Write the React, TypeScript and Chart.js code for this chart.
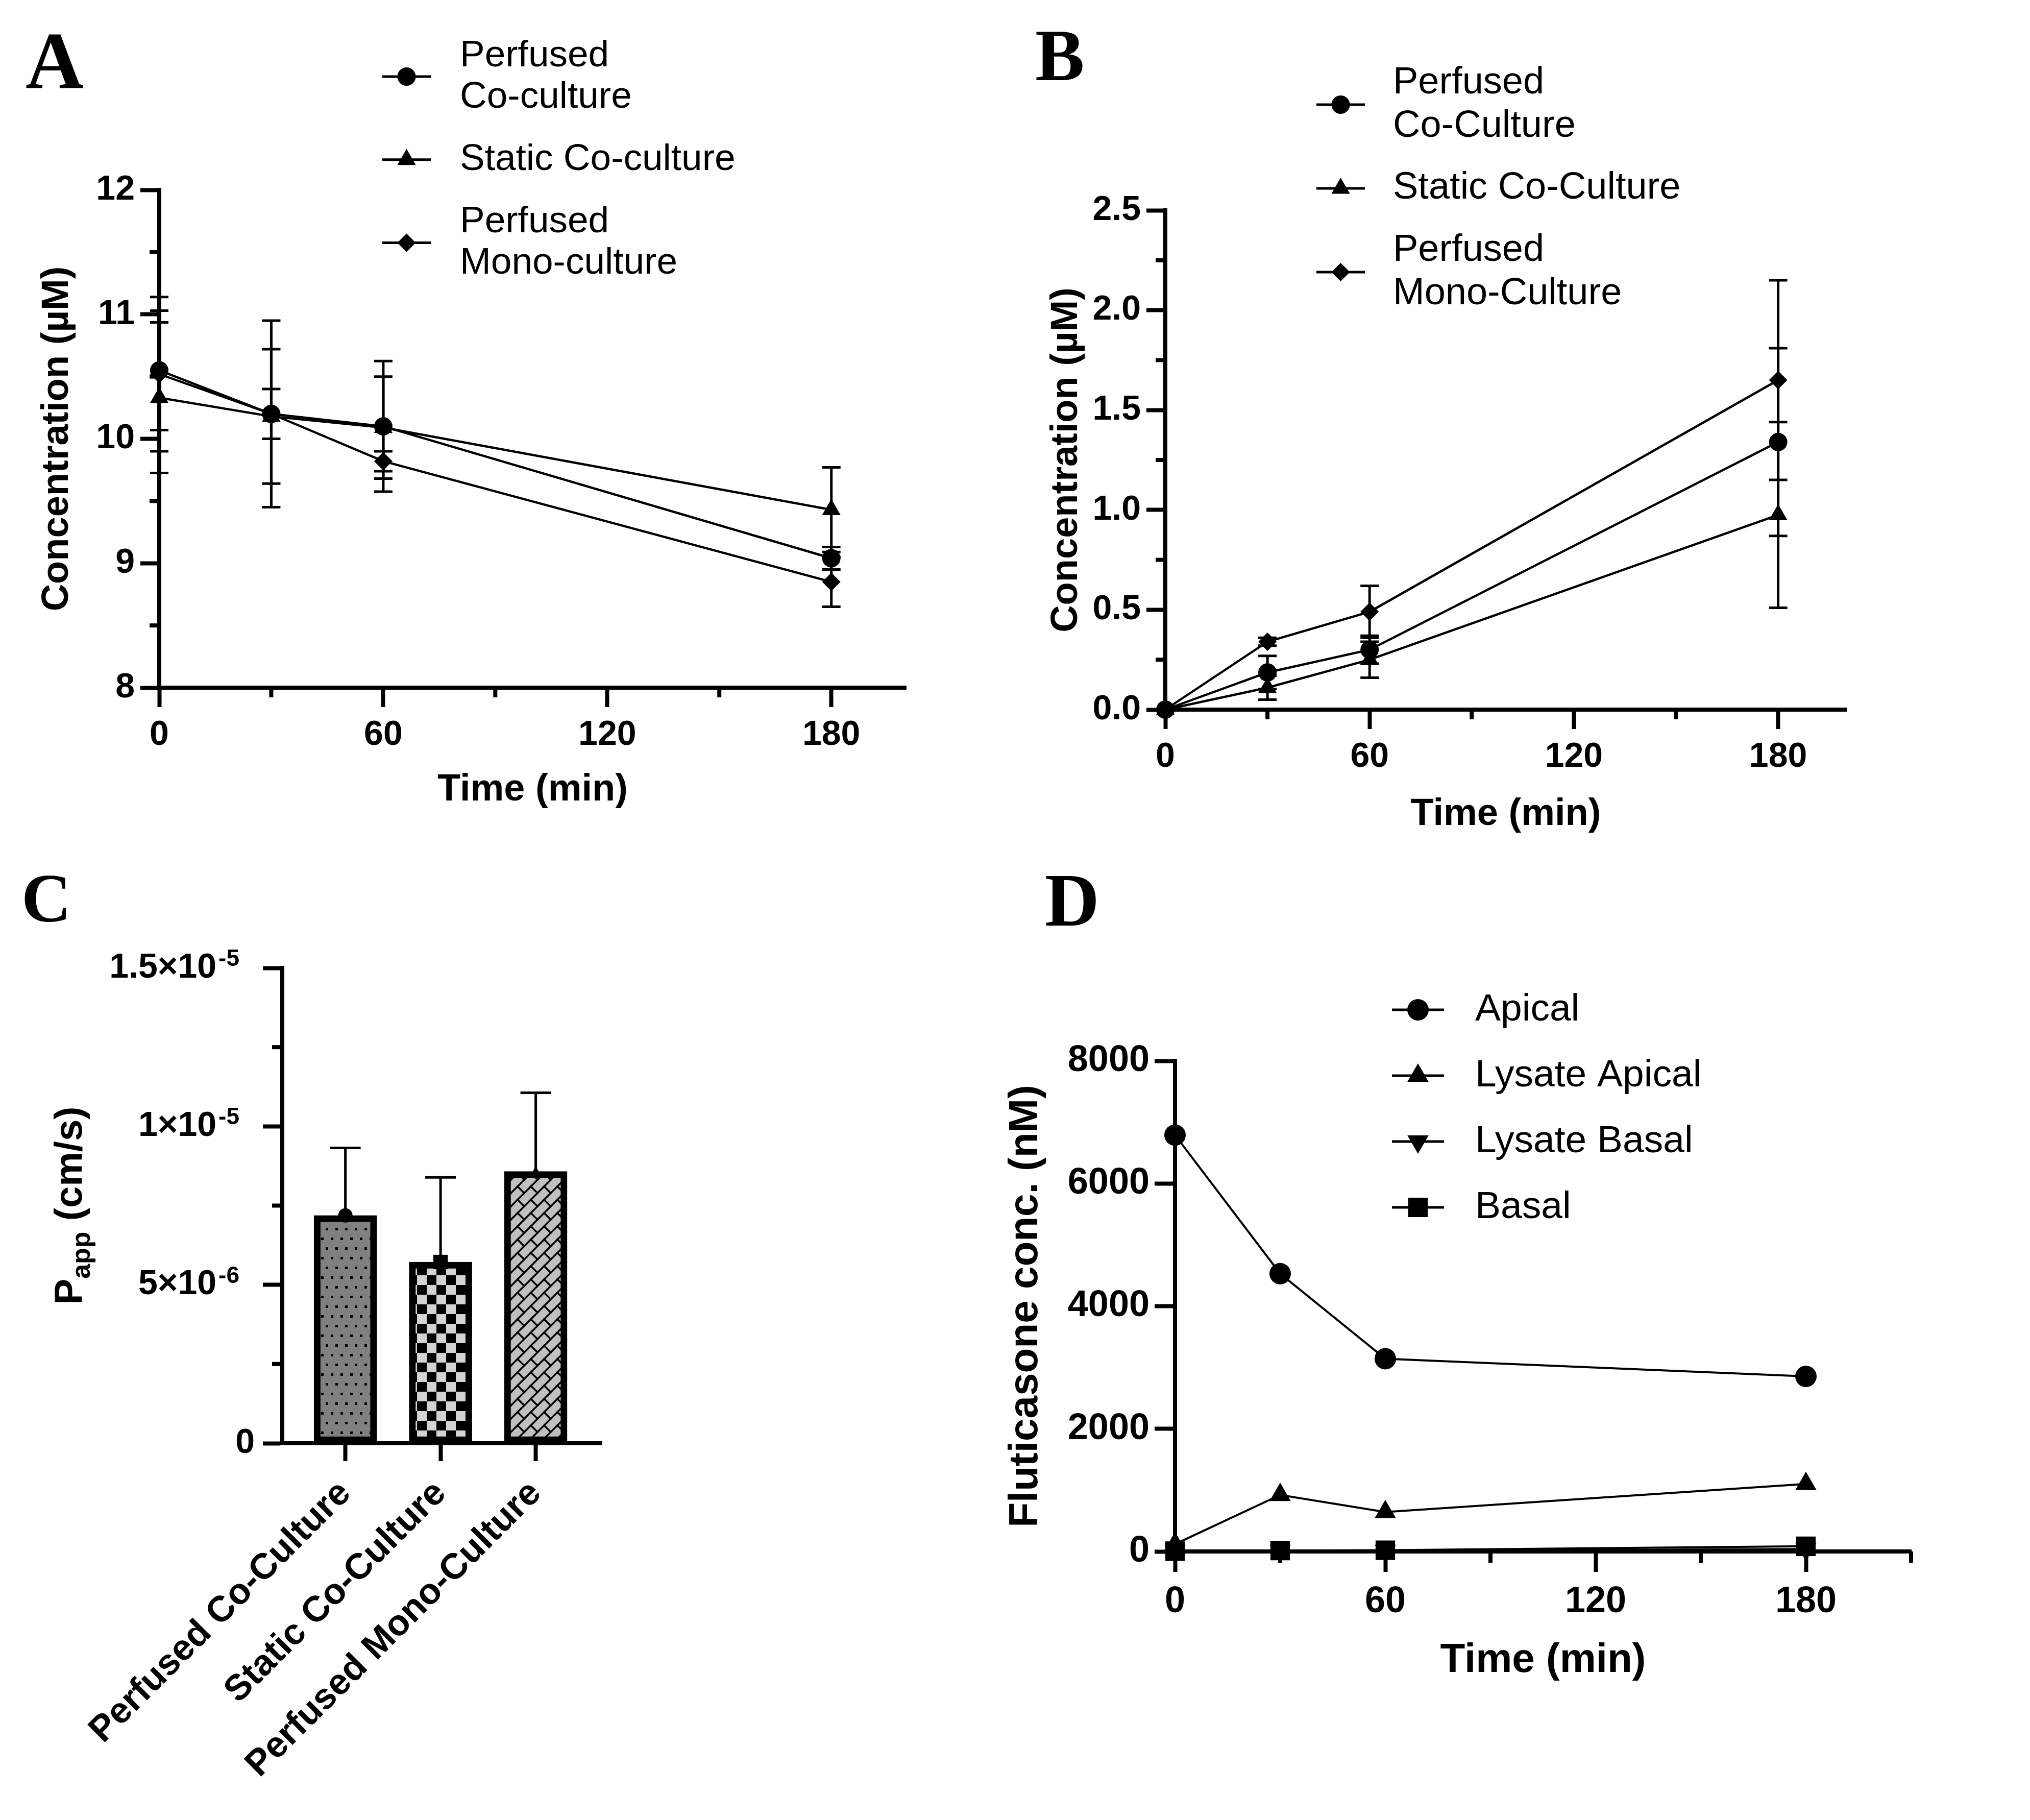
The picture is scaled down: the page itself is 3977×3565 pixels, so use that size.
import React, { useEffect, useRef } from 'react';
import { Chart, registerables } from 'chart.js';

Chart.register(...registerables);

const SANS = "'Liberation Sans', Arial, Helvetica, sans-serif";
const SERIF = "'Liberation Serif', 'Times New Roman', Times, serif";
Chart.defaults.font.family = SANS;
Chart.defaults.color = '#000';

// ---------------- data ----------------
const timePoints = [0, 30, 60, 180];
const timeMajorTicks = [0, 60, 120, 180];
const timeMinorTicks = [30, 90, 150];
const timeMinorTicksD = [30, 90, 150, 210];

// Panel A
const aSeriesNames = [['Perfused', 'Co-culture'], ['Static Co-culture'], ['Perfused', 'Mono-culture']];
const aPerfusedCo = [10.55, 10.2, 10.1, 9.04];
const aPerfusedCoErr = [0.48, 0.2, 0.525, 0.09];
const aStaticCo = [10.33, 10.18, 10.09, 9.43];
const aStaticCoErr = [0.605, 0.54, 0.41, 0.34];
const aPerfusedMono = [10.52, 10.2, 9.82, 8.85];
const aPerfusedMonoErr = [0.62, 0.75, 0.08, 0.2];
const aYTicks = [8, 9, 10, 11, 12];
const aYMinor = [8.5, 9.5, 10.5, 11.5];

// Panel B
const bSeriesNames = [['Perfused', 'Co-Culture'], ['Static Co-Culture'], ['Perfused', 'Mono-Culture']];
const bPerfusedCo = [0, 0.186, 0.3, 1.34];
const bPerfusedCoErr = [0, 0.083, 0.07, 0.47];
const bStaticCo = [0, 0.11, 0.25, 0.975];
const bStaticCoErr = [0, 0.06, 0.09, 0.465];
const bPerfusedMono = [0, 0.34, 0.49, 1.65];
const bPerfusedMonoErr = [0, 0.02, 0.13, 0.5];
const bYTicks = [0, 0.5, 1, 1.5, 2, 2.5];
const bYTickLabels = ['0.0', '0.5', '1.0', '1.5', '2.0', '2.5'];
const bYMinor = [0.25, 0.75, 1.25, 1.75, 2.25];

// Panel C
const cCategories = ['Perfused Co-Culture', 'Static Co-Culture', 'Perfused Mono-Culture'];
const cPositions = [1, 2, 3];
const cPapp = [7.19e-6, 5.72e-6, 8.58e-6];
const cPappErr = [2.13e-6, 2.67e-6, 2.48e-6];
const cYTicks = [0, 5e-6, 1e-5, 1.5e-5];
const cYTickBase = ['0', '5×10', '1×10', '1.5×10'];
const cYTickExp = ['', '-6', '-5', '-5'];
const cYMinor = [2.5e-6, 7.5e-6, 1.25e-5];

// Panel D
const dSeriesNames = [['Apical'], ['Lysate Apical'], ['Lysate Basal'], ['Basal']];
const dApical = [6790, 4530, 3143, 2855];
const dLysateApical = [120, 922, 644, 1100];
const dLysateBasal = [5, 10, 10, 40];
const dBasal = [5, 15, 20, 85];
const dYTicks = [0, 2000, 4000, 6000, 8000];

// ---------------- layout ----------------
type Box = { x: number; y: number; w: number; h: number };
const BOX_A: Box = { x: 0, y: 0, w: 1990, h: 1700 };
const BOX_B: Box = { x: 1940, y: 0, w: 2037, h: 1700 };
const BOX_C: Box = { x: 0, y: 1700, w: 1990, h: 1865 };
const BOX_D: Box = { x: 1940, y: 1700, w: 2037, h: 1865 };

// ---------------- helpers ----------------
interface AxisOpts {
  min: number; max: number; ticks: number[]; labels?: string[];
  size: number; horizontal: boolean; tickLen: number; pad: number; font: number;
  title?: string; titleFont?: number; titlePad?: number; rotation?: number; hideLabels?: boolean;
}

function axis(o: AxisOpts): any {
  return {
    type: 'linear',
    position: o.horizontal ? 'bottom' : 'left',
    min: o.min,
    max: o.max,
    bounds: 'data',
    offset: false,
    beginAtZero: false,
    afterBuildTicks: (s: any) => { s.ticks = o.ticks.map((v) => ({ value: v })); },
    afterFit: (s: any) => { if (o.horizontal) s.height = o.size; else s.width = o.size; },
    ticks: {
      display: !o.hideLabels,
      autoSkip: false,
      color: '#000',
      padding: o.pad,
      minRotation: o.rotation ?? 0,
      maxRotation: o.rotation ?? 0,
      font: { family: SANS, size: o.font, weight: 'bold' },
      callback: (v: number, i: number) => (o.labels ? o.labels[i] : String(v)),
    },
    grid: {
      display: true, drawOnChartArea: false, drawTicks: true, offset: false,
      tickLength: o.tickLen, tickWidth: 8, tickColor: '#000',
    },
    border: { display: true, color: '#000', width: 8 },
    title: o.title
      ? {
          display: true, text: o.title, color: '#000',
          font: { family: SANS, size: o.titleFont, weight: 'bold' },
          padding: o.horizontal ? { top: 0, bottom: o.titlePad } : { top: o.titlePad, bottom: 0 },
        }
      : { display: false },
  };
}

function series(lines: string[], xs: number[], ys: number[], errs: number[] | null,
  style: string, radius: number, lineWidth: number, rotation = 0, order = 0): any {
  return {
    label: lines.join(' '),
    legendLines: lines,
    data: xs.map((x, i) => ({ x, y: ys[i] })),
    errors: errs,
    borderColor: '#000',
    backgroundColor: '#000',
    borderWidth: lineWidth,
    pointStyle: style,
    pointRadius: radius,
    pointHoverRadius: radius,
    pointRotation: rotation,
    pointBackgroundColor: '#000',
    pointBorderColor: '#000',
    pointBorderWidth: 0,
    tension: 0,
    fill: false,
    clip: false,
    order,
  };
}

function baseOptions(pad: { top: number; right: number }, scales: any): any {
  return {
    responsive: false,
    maintainAspectRatio: false,
    animation: false,
    devicePixelRatio: 1,
    events: [],
    layout: { padding: { top: pad.top, right: pad.right, bottom: 0, left: 0 } },
    scales,
    plugins: { legend: { display: false }, tooltip: { enabled: false }, title: { display: false } },
  };
}

function drawMarker(ctx: CanvasRenderingContext2D, style: string, x: number, y: number, r: number, rotation: number) {
  ctx.save();
  ctx.translate(x, y);
  ctx.rotate((rotation * Math.PI) / 180);
  ctx.beginPath();
  if (style === 'circle') {
    ctx.arc(0, 0, r, 0, Math.PI * 2);
  } else if (style === 'triangle') {
    for (let k = 0; k < 3; k++) {
      const a = (k * 2 * Math.PI) / 3;
      const px = Math.sin(a) * r;
      const py = -Math.cos(a) * r;
      if (k === 0) ctx.moveTo(px, py); else ctx.lineTo(px, py);
    }
  } else if (style === 'rectRot') {
    ctx.moveTo(-r, 0); ctx.lineTo(0, -r); ctx.lineTo(r, 0); ctx.lineTo(0, r);
  } else {
    const s = r * Math.SQRT1_2;
    ctx.rect(-s, -s, 2 * s, 2 * s);
  }
  ctx.closePath();
  ctx.fillStyle = '#000';
  ctx.fill();
  ctx.restore();
}

// ---------------- plugins ----------------
const errorBarPlugin = {
  id: 'errorBars',
  beforeDatasetsDraw(chart: any) {
    const ctx: CanvasRenderingContext2D = chart.ctx;
    chart.data.datasets.forEach((ds: any, i: number) => {
      if (!ds.errors) return;
      const meta = chart.getDatasetMeta(i);
      const xs = chart.scales[meta.xAxisID];
      const ys = chart.scales[meta.yAxisID];
      ctx.save();
      ctx.strokeStyle = '#000';
      ctx.lineWidth = ds.errorLineWidth ?? 5;
      ds.data.forEach((p: any, j: number) => {
        const e = ds.errors[j];
        if (!e) return;
        const x = xs.getPixelForValue(p.x);
        const yTop = ys.getPixelForValue(p.y + e);
        const yBot = ds.errorUpOnly ? ys.getPixelForValue(p.y) : ys.getPixelForValue(p.y - e);
        const h = ds.capHalfWidth ?? 18;
        ctx.beginPath();
        ctx.moveTo(x, yTop); ctx.lineTo(x, yBot);
        ctx.moveTo(x - h, yTop); ctx.lineTo(x + h, yTop);
        if (!ds.errorUpOnly) { ctx.moveTo(x - h, yBot); ctx.lineTo(x + h, yBot); }
        ctx.stroke();
      });
      ctx.restore();
    });
  },
};

function minorTicks(cfg: { x?: number[]; xLen?: number; y?: number[]; yLen?: number }) {
  return {
    id: 'minorTicks',
    afterDraw(chart: any) {
      const ctx: CanvasRenderingContext2D = chart.ctx;
      const { left, bottom } = chart.chartArea;
      ctx.save();
      ctx.strokeStyle = '#000';
      ctx.lineWidth = 8;
      (cfg.x || []).forEach((v) => {
        const px = chart.scales.x.getPixelForValue(v);
        ctx.beginPath(); ctx.moveTo(px, bottom); ctx.lineTo(px, bottom + (cfg.xLen || 19)); ctx.stroke();
      });
      (cfg.y || []).forEach((v) => {
        const py = chart.scales.y.getPixelForValue(v);
        ctx.beginPath(); ctx.moveTo(left, py); ctx.lineTo(left - (cfg.yLen || 19), py); ctx.stroke();
      });
      ctx.restore();
    },
  };
}

// y tick labels written as mantissa×10 with a raised exponent
function sciTickLabels(cfg: { values: number[]; base: string[]; exp: string[]; tickLen: number; padPlain: number; padExp: number; size: number; expSize: number; raise: number }) {
  return {
    id: 'sciTicks',
    afterDraw(chart: any) {
      const ctx: CanvasRenderingContext2D = chart.ctx;
      const { left } = chart.chartArea;
      const ys = chart.scales.y;
      const big = `bold ${cfg.size}px ${SANS}`;
      const small = `bold ${cfg.expSize}px ${SANS}`;
      ctx.save();
      ctx.fillStyle = '#000';
      ctx.textAlign = 'right';
      cfg.values.forEach((v, i) => {
        const y = ys.getPixelForValue(v);
        const e = cfg.exp[i];
        if (!e) {
          ctx.font = big;
          ctx.textBaseline = 'middle';
          ctx.fillText(cfg.base[i], left - cfg.tickLen - cfg.padPlain, y);
          return;
        }
        const right = left - cfg.tickLen - cfg.padExp;
        ctx.font = small;
        const ew = ctx.measureText(e).width;
        ctx.textBaseline = 'alphabetic';
        ctx.fillText(e, right, y - cfg.raise);
        ctx.font = big;
        ctx.textBaseline = 'middle';
        ctx.fillText(cfg.base[i], right - ew - 4, y);
      });
      ctx.restore();
    },
  };
}

function legendPlugin(cfg: { x0: number; x1: number; textX: number; y0: number; step: number; lineGap: number; font: number }) {
  return {
    id: 'customLegend',
    afterDraw(chart: any) {
      const ctx: CanvasRenderingContext2D = chart.ctx;
      ctx.save();
      ctx.font = `${cfg.font}px ${SANS}`;
      ctx.fillStyle = '#000';
      ctx.strokeStyle = '#000';
      ctx.lineWidth = 5;
      ctx.textBaseline = 'middle';
      ctx.textAlign = 'left';
      chart.data.datasets.filter((d: any) => d.legendLines).forEach((ds: any, i: number) => {
        const y = cfg.y0 + i * cfg.step;
        ctx.beginPath(); ctx.moveTo(cfg.x0, y); ctx.lineTo(cfg.x1, y); ctx.stroke();
        drawMarker(ctx, ds.pointStyle, (cfg.x0 + cfg.x1) / 2, y, ds.pointRadius, ds.pointRotation || 0);
        const n = ds.legendLines.length;
        ds.legendLines.forEach((ln: string, k: number) => {
          ctx.fillText(ln, cfg.textX, y + (k - (n - 1) / 2) * cfg.lineGap);
        });
      });
      ctx.restore();
    },
  };
}

function letterPlugin(text: string, x: number, y: number, size: number) {
  return {
    id: 'panelLetter',
    afterDraw(chart: any) {
      const ctx: CanvasRenderingContext2D = chart.ctx;
      ctx.save();
      ctx.font = `bold ${size}px ${SERIF}`;
      ctx.fillStyle = '#000';
      ctx.textBaseline = 'alphabetic';
      ctx.textAlign = 'left';
      ctx.fillText(text, x, y);
      ctx.restore();
    },
  };
}

function subscriptTitle(cfg: { x: number; main: string; sub: string; rest: string; size: number; subSize: number; drop: number }) {
  return {
    id: 'subTitle',
    afterDraw(chart: any) {
      const ctx: CanvasRenderingContext2D = chart.ctx;
      const { top, bottom } = chart.chartArea;
      const cy = (top + bottom) / 2;
      const big = `bold ${cfg.size}px ${SANS}`;
      const small = `bold ${cfg.subSize}px ${SANS}`;
      ctx.save();
      ctx.font = big;
      const w1 = ctx.measureText(cfg.main).width;
      const w3 = ctx.measureText(cfg.rest).width;
      ctx.font = small;
      const w2 = ctx.measureText(cfg.sub).width;
      const total = w1 + w2 + w3;
      ctx.translate(cfg.x, cy);
      ctx.rotate(-Math.PI / 2);
      ctx.fillStyle = '#000';
      ctx.textBaseline = 'alphabetic';
      ctx.textAlign = 'left';
      let x = -total / 2;
      ctx.font = big; ctx.fillText(cfg.main, x, 0); x += w1;
      ctx.font = small; ctx.fillText(cfg.sub, x, cfg.drop); x += w2;
      ctx.font = big; ctx.fillText(cfg.rest, x, 0);
      ctx.restore();
    },
  };
}

// ---------------- patterns ----------------
function tile(w: number, h: number, draw: (c: CanvasRenderingContext2D) => void): CanvasPattern {
  const cv = document.createElement('canvas');
  cv.width = w; cv.height = h;
  const c = cv.getContext('2d') as CanvasRenderingContext2D;
  draw(c);
  return c.createPattern(cv, 'repeat') as CanvasPattern;
}

function dotsPattern() {
  return tile(38, 38, (c) => {
    c.fillStyle = '#808080'; c.fillRect(0, 0, 38, 38);
    c.fillStyle = '#000';
    [[2, 2], [21, 2], [11, 21], [30, 21]].forEach(([x, y]) => c.fillRect(x, y, 5, 5));
  });
}

function checkerPattern() {
  return tile(38, 38, (c) => {
    c.fillStyle = '#d3d3d3'; c.fillRect(0, 0, 38, 38);
    c.fillStyle = '#000';
    c.fillRect(0, 0, 19, 19); c.fillRect(19, 19, 19, 19);
  });
}

function brickPattern() {
  const s = 26;
  return tile(s, s, (c) => {
    c.fillStyle = '#c0c0c0'; c.fillRect(0, 0, s, s);
    c.strokeStyle = '#000'; c.lineWidth = 3.5; c.lineCap = 'square';
    const seg = (x1: number, y1: number, x2: number, y2: number) => {
      [-s, 0, s].forEach((dx) => [-s, 0, s].forEach((dy) => {
        c.beginPath(); c.moveTo(x1 + dx, y1 + dy); c.lineTo(x2 + dx, y2 + dy); c.stroke();
      }));
    };
    seg(0, s, s, 0);
    seg(0, 0, s / 2, s / 2);
  });
}

// ---------------- chart builders ----------------
function buildA(): any {
  return {
    type: 'line',
    data: {
      datasets: [
        series(aSeriesNames[0], timePoints, aPerfusedCo, aPerfusedCoErr, 'circle', 18, 4.5),
        series(aSeriesNames[1], timePoints, aStaticCo, aStaticCoErr, 'triangle', 21, 4.5),
        series(aSeriesNames[2], timePoints, aPerfusedMono, aPerfusedMonoErr, 'rectRot', 18, 4.5),
      ],
    },
    options: baseOptions({ top: 372, right: 215 }, {
      x: axis({ min: 0, max: 200, ticks: timeMajorTicks, size: 353, horizontal: true, tickLen: 38, pad: 14, font: 68, title: 'Time (min)', titleFont: 74, titlePad: 108 }),
      y: axis({ min: 8, max: 12, ticks: aYTicks, size: 312, horizontal: false, tickLen: 37, pad: 11, font: 68, title: 'Concentration (µM)', titleFont: 74, titlePad: 68 }),
    }),
    plugins: [
      errorBarPlugin,
      minorTicks({ x: timeMinorTicks, xLen: 19, y: aYMinor, yLen: 19 }),
      legendPlugin({ x0: 749, x1: 844, textX: 901, y0: 150, step: 162.75, lineGap: 81, font: 73 }),
      letterPlugin('A', 50, 173, 158),
    ],
  };
}

function buildB(): any {
  return {
    type: 'line',
    data: {
      datasets: [
        series(bSeriesNames[0], timePoints, bPerfusedCo, bPerfusedCoErr, 'circle', 18, 4.5),
        series(bSeriesNames[1], timePoints, bStaticCo, bStaticCoErr, 'triangle', 21, 4.5),
        series(bSeriesNames[2], timePoints, bPerfusedMono, bPerfusedMonoErr, 'rectRot', 18, 4.5),
      ],
    },
    options: baseOptions({ top: 412, right: 360 }, {
      x: axis({ min: 0, max: 200, ticks: timeMajorTicks, size: 310, horizontal: true, tickLen: 38, pad: 14, font: 68, title: 'Time (min)', titleFont: 74, titlePad: 60 }),
      y: axis({ min: 0, max: 2.5, ticks: bYTicks, labels: bYTickLabels, size: 343, horizontal: false, tickLen: 37, pad: 11, font: 68, title: 'Concentration (µM)', titleFont: 74, titlePad: 105 }),
    }),
    plugins: [
      errorBarPlugin,
      minorTicks({ x: timeMinorTicks, xLen: 19, y: bYMinor, yLen: 19 }),
      legendPlugin({ x0: 639, x1: 734, textX: 789, y0: 205, step: 164, lineGap: 85, font: 74 }),
      letterPlugin('B', 88, 157, 145),
    ],
  };
}

function buildC(): any {
  const patterns = [dotsPattern(), checkerPattern(), brickPattern()];
  const pts = cPositions.map((x, i) => ({ x, y: cPapp[i] }));
  return {
    type: 'bar',
    data: {
      datasets: [
        {
          type: 'line', data: pts, showLine: false,
          pointStyle: ['circle', 'rect', 'triangle'], pointRadius: [14, 20, 10], pointHoverRadius: [14, 20, 10],
          pointBackgroundColor: '#000', pointBorderColor: '#000', pointBorderWidth: 0, clip: false, order: 0,
        },
        {
          type: 'bar', data: pts, backgroundColor: patterns, borderColor: '#000', borderWidth: 13,
          borderSkipped: false, barThickness: 123, errors: cPappErr, errorUpOnly: true, capHalfWidth: 30,
          errorLineWidth: 5, clip: false, order: 1,
        },
      ],
    },
    options: baseOptions({ top: 196, right: 811 }, {
      x: axis({ min: 0.337, max: 3.694, ticks: cPositions, labels: cCategories, size: 738, horizontal: true, tickLen: 35, pad: 22, font: 71, rotation: 45 }),
      y: axis({ min: 0, max: 1.5e-5, ticks: cYTicks, size: 553, horizontal: false, tickLen: 38, pad: 40, font: 68, hideLabels: true }),
    }),
    plugins: [
      errorBarPlugin,
      minorTicks({ y: cYMinor, yLen: 20 }),
      sciTickLabels({ values: cYTicks, base: cYTickBase, exp: cYTickExp, tickLen: 38, padPlain: 16, padExp: 46, size: 68, expSize: 46, raise: 4 }),
      subscriptTitle({ x: 160, main: 'P', sub: 'app', rest: ' (cm/s)', size: 76, subSize: 52, drop: 16 }),
      letterPlugin('C', 42, 105, 135),
    ],
  };
}

function buildD(): any {
  return {
    type: 'line',
    data: {
      datasets: [
        series(dSeriesNames[0], timePoints, dApical, null, 'circle', 21, 4, 0, 3),
        series(dSeriesNames[1], timePoints, dLysateApical, null, 'triangle', 24, 4, 0, 2),
        series(dSeriesNames[2], timePoints, dLysateBasal, null, 'triangle', 24, 4, 180, 1),
        series(dSeriesNames[3], timePoints, dBasal, null, 'rect', 27, 4, 0, 0),
      ],
    },
    options: baseOptions({ top: 378, right: 233 }, {
      x: axis({ min: 0, max: 210, ticks: timeMajorTicks, size: 526, horizontal: true, tickLen: 40, pad: 16, font: 72, title: 'Time (min)', titleFont: 80, titlePad: 264 }),
      y: axis({ min: 0, max: 8000, ticks: dYTicks, size: 362, horizontal: false, tickLen: 40, pad: 10, font: 72, title: 'Fluticasone conc. (nM)', titleFont: 80, titlePad: 22 }),
    }),
    plugins: [
      minorTicks({ x: timeMinorTicksD, xLen: 22 }),
      legendPlugin({ x0: 787, x1: 889, textX: 950, y0: 278, step: 129, lineGap: 0, font: 75 }),
      letterPlugin('D', 107, 113, 148),
    ],
  };
}

// ---------------- components ----------------
function ChartCanvas({ box, build }: { box: Box; build: () => any }) {
  const ref = useRef<HTMLCanvasElement | null>(null);
  useEffect(() => {
    if (!ref.current) return;
    const chart = new Chart(ref.current, build());
    return () => chart.destroy();
  }, []);
  return (
    <canvas
      ref={ref}
      width={box.w}
      height={box.h}
      style={{ position: 'absolute', left: box.x, top: box.y, width: box.w, height: box.h }}
    />
  );
}

export default function App() {
  return (
    <div style={{ position: 'absolute', left: 0, top: 0, width: 3977, height: 3565, background: '#fff', overflow: 'hidden' }}>
      <ChartCanvas box={BOX_A} build={buildA} />
      <ChartCanvas box={BOX_B} build={buildB} />
      <ChartCanvas box={BOX_C} build={buildC} />
      <ChartCanvas box={BOX_D} build={buildD} />
    </div>
  );
}
